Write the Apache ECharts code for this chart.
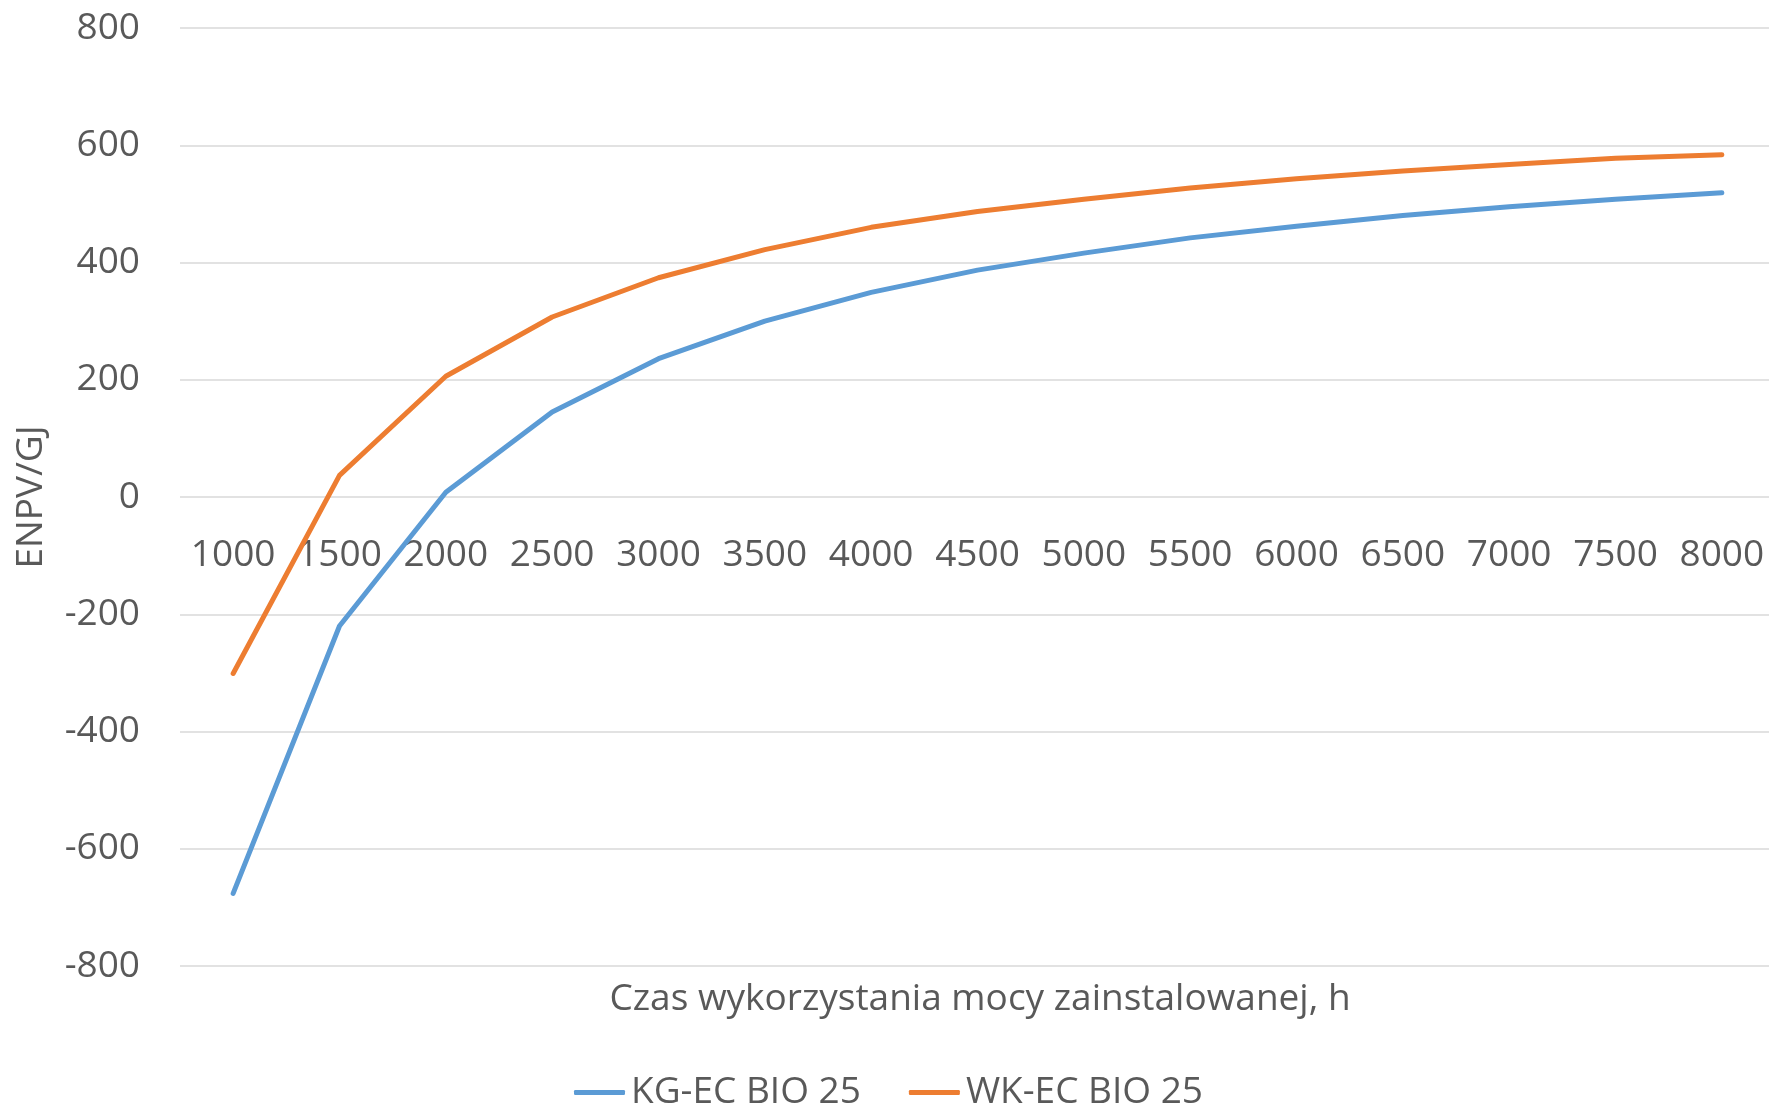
<!DOCTYPE html>
<html>
<head>
<meta charset="utf-8">
<script src="https://cdn.jsdelivr.net/npm/echarts@6/dist/echarts.min.js"></script>
<style>
  html, body { margin: 0; padding: 0; background: #ffffff; }
  #chart { width: 1769px; height: 1104px; }
</style>
</head>
<body>
<div id="chart"></div>
<script>
// Operating hours of installed capacity (h)
const hours = ['1000', '1500', '2000', '2500', '3000', '3500', '4000', '4500',
               '5000', '5500', '6000', '6500', '7000', '7500', '8000'];
// ENPV per GJ for each variant
const kgEcBio25 = [-676, -220, 8, 145, 236, 300, 349, 387, 416, 442, 462, 480, 495, 508, 519];
const wkEcBio25 = [-301, 37, 206, 307, 374, 422, 460, 487, 508, 527, 543, 556, 567, 578, 584];
const seriesNames = ['KG-EC BIO 25', 'WK-EC BIO 25'];
const yTicks = { min: -800, max: 800, step: 200 };

const FONT = '"Open Sans", "Liberation Sans", sans-serif';
const TEXT = '#595959';
const GRID = '#d9d9d9';

const GRID_TOP = 28;
const GRID_BOTTOM = 138;
const PLOT_H = 1104 - GRID_TOP - GRID_BOTTOM;
// the category axis sits on the zero line, half-way down the plot
const zeroOffset = -PLOT_H * (0 - yTicks.min) / (yTicks.max - yTicks.min);

const chart = echarts.init(document.getElementById('chart'), null, { renderer: 'canvas' });

chart.setOption({
  backgroundColor: '#ffffff',
  animation: false,
  textStyle: { fontFamily: FONT },
  title: {
    text: 'Czas wykorzystania mocy zainstalowanej, h',
    left: 975,
    textAlign: 'center',
    top: 976,
    textStyle: { color: TEXT, fontFamily: FONT, fontSize: 37, fontWeight: 'normal' }
  },
  legend: {
    data: seriesNames,
    left: 569,
    top: 1069,
    itemWidth: 51,
    itemHeight: 5,
    itemGap: 48,
    icon: 'roundRect',
    textStyle: { color: TEXT, fontFamily: FONT, fontSize: 37, padding: [0, 0, 0, 1] }
  },
  grid: {
    left: 180, right: -6, top: GRID_TOP, bottom: GRID_BOTTOM,
    containLabel: false,
    outerBoundsMode: 'none'
  },
  xAxis: {
    type: 'category',
    data: hours,
    boundaryGap: true,
    offset: zeroOffset,
    axisLine: { show: false, onZero: false },
    axisTick: { show: false },
    axisLabel: { interval: 0, color: TEXT, fontFamily: FONT, fontSize: 37, margin: 40 },
    splitLine: { show: false }
  },
  yAxis: {
    type: 'value',
    min: yTicks.min,
    max: yTicks.max,
    interval: yTicks.step,
    name: 'ENPV/GJ',
    nameLocation: 'middle',
    nameRotate: 90,
    nameGap: 130,
    nameTextStyle: { color: TEXT, fontFamily: FONT, fontSize: 37 },
    axisLine: { show: false },
    axisTick: { show: false },
    axisLabel: { color: TEXT, fontFamily: FONT, fontSize: 37, margin: 40 },
    splitLine: { lineStyle: { color: GRID, width: 1.5 } }
  },
  series: [
    {
      name: seriesNames[0],
      type: 'line',
      data: kgEcBio25,
      showSymbol: false,
      symbol: 'none',
      color: '#5B9BD5',
      lineStyle: { width: 5, color: '#5B9BD5', cap: 'round', join: 'round' }
    },
    {
      name: seriesNames[1],
      type: 'line',
      data: wkEcBio25,
      showSymbol: false,
      symbol: 'none',
      color: '#ED7D31',
      lineStyle: { width: 5, color: '#ED7D31', cap: 'round', join: 'round' }
    }
  ]
});
</script>
</body>
</html>
